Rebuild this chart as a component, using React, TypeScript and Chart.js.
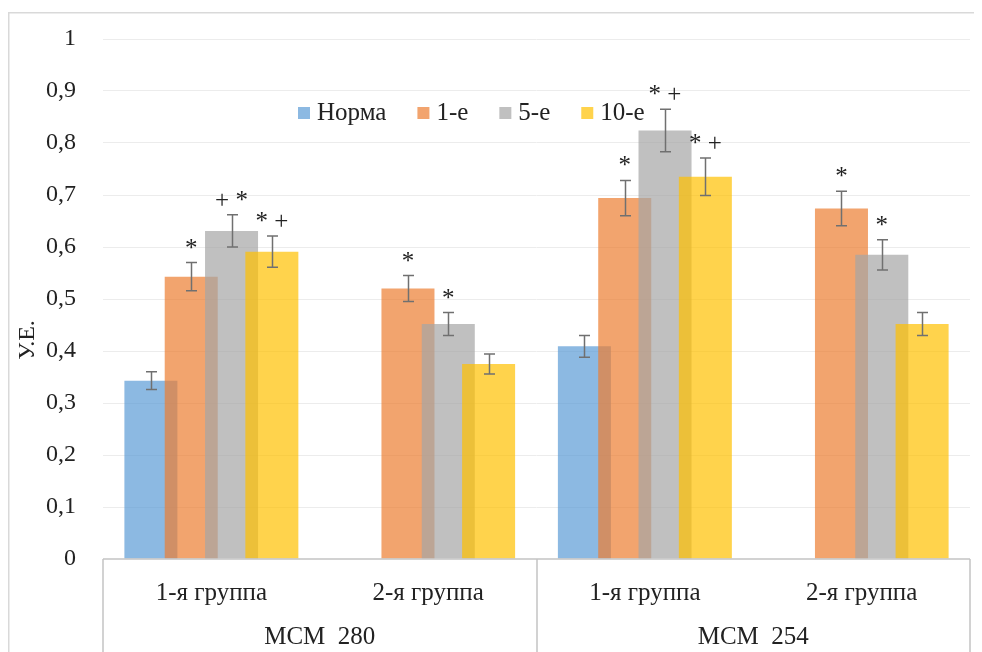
import React, { useEffect, useRef } from 'react';
import { Chart, registerables } from 'chart.js';

Chart.register(...registerables);

// ---- data ----
const categories = ['1-я группа', '2-я группа', '1-я группа', '2-я группа'];
const groupLabels = ['MCM  280', 'MCM  254'];
const groupSpan = 2;
const seriesNames = ['Норма', '1-е', '5-е', '10-е'];
const normaValues = [0.343, null, 0.409, null];
const normaErrors = [0.017, null, 0.021, null];
const day1Values = [0.543, 0.52, 0.694, 0.674];
const day1Errors = [0.027, 0.025, 0.034, 0.033];
const day5Values = [0.631, 0.452, 0.824, 0.585];
const day5Errors = [0.031, 0.022, 0.041, 0.029];
const day10Values = [0.591, 0.375, 0.735, 0.452];
const day10Errors = [0.03, 0.019, 0.036, 0.022];
const normaMarks = ['', '', '', ''];
const day1Marks = ['*', '*', '*', '*'];
const day5Marks = ['+ *', '*', '* +', '*'];
const day10Marks = ['* +', '', '* +', ''];
const yTickLabels = ['0', '0,1', '0,2', '0,3', '0,4', '0,5', '0,6', '0,7', '0,8', '0,9', '1'];
const yTitle = 'У.Е.';

const seriesColors = [
  'rgba(91,155,213,0.7)',
  'rgba(237,125,49,0.7)',
  'rgba(165,165,165,0.7)',
  'rgba(255,192,0,0.7)',
];

const FONT = '"Liberation Serif", "Times New Roman", serif';
const TEXT = '#222222';

const allValues = [normaValues, day1Values, day5Values, day10Values];
const allErrors = [normaErrors, day1Errors, day5Errors, day10Errors];
const allMarks = [normaMarks, day1Marks, day5Marks, day10Marks];

const customPlugin = {
  id: 'custom',
  beforeDraw(chart: any) {
    const ctx = chart.ctx;
    ctx.save();
    ctx.strokeStyle = '#d9d9d9';
    ctx.lineWidth = 1.5;
    ctx.beginPath();
    ctx.moveTo(0.75, chart.height + 5);
    ctx.lineTo(0.75, 4.75);
    ctx.lineTo(chart.width + 5, 4.75);
    ctx.stroke();
    ctx.restore();
  },
  beforeDatasetsDraw(chart: any) {
    const metas = chart.getSortedVisibleDatasetMetas();
    metas.forEach((m: any) => m.controller.draw());
    return false;
  },
  afterDraw(chart: any) {
    const ctx = chart.ctx;
    const area = chart.chartArea;
    const x = chart.scales.x;
    const y = chart.scales.y;
    ctx.save();

    // x axis line + separators
    ctx.strokeStyle = '#c4c4c4';
    ctx.lineWidth = 1.5;
    ctx.beginPath();
    ctx.moveTo(area.left, area.bottom);
    ctx.lineTo(area.right, area.bottom);
    for (let g = 0; g <= groupLabels.length; g++) {
      const px = Math.round(x.getPixelForValue(g * groupSpan - 0.5));
      ctx.moveTo(px, area.bottom);
      ctx.lineTo(px, chart.height + 5);
    }
    ctx.stroke();

    // group labels
    ctx.fillStyle = TEXT;
    ctx.font = `25px ${FONT}`;
    ctx.textAlign = 'center';
    ctx.textBaseline = 'middle';
    groupLabels.forEach((lab, g) => {
      const a = x.getPixelForValue(g * groupSpan - 0.5);
      const b = x.getPixelForValue((g + 1) * groupSpan - 0.5);
      ctx.fillText(lab, (a + b) / 2, area.bottom + 78);
    });

    // error bars
    ctx.strokeStyle = '#707070';
    ctx.lineWidth = 1.5;
    allValues.forEach((vals, i) => {
      const meta = chart.getDatasetMeta(i);
      vals.forEach((v, j) => {
        const e = allErrors[i][j];
        if (v === null || e === null) return;
        const bx = Math.round(meta.data[j].x) + 0.5;
        const yt = y.getPixelForValue((v as number) + (e as number));
        const yb = y.getPixelForValue((v as number) - (e as number));
        ctx.beginPath();
        ctx.moveTo(bx, yt);
        ctx.lineTo(bx, yb);
        ctx.moveTo(bx - 5.5, yt);
        ctx.lineTo(bx + 5.5, yt);
        ctx.moveTo(bx - 5.5, yb);
        ctx.lineTo(bx + 5.5, yb);
        ctx.stroke();
      });
    });

    // significance marks
    ctx.fillStyle = TEXT;
    ctx.font = `25px ${FONT}`;
    ctx.textAlign = 'center';
    ctx.textBaseline = 'alphabetic';
    allMarks.forEach((marks, i) => {
      const meta = chart.getDatasetMeta(i);
      marks.forEach((m, j) => {
        const v = allValues[i][j];
        const e = allErrors[i][j];
        if (!m || v === null || e === null) return;
        const bx = meta.data[j].x;
        const yt = y.getPixelForValue((v as number) + (e as number));
        ctx.fillText(m, bx, yt - 7);
      });
    });

    // y title
    ctx.save();
    ctx.translate(20, (area.top + area.bottom) / 2 + 41);
    ctx.rotate(-Math.PI / 2);
    ctx.textAlign = 'center';
    ctx.textBaseline = 'middle';
    ctx.font = `24px ${FONT}`;
    ctx.fillStyle = TEXT;
    ctx.fillText(yTitle, 0, 0);
    ctx.restore();

    // legend
    let lx = area.left + 195;
    const ly = area.top + 74;
    ctx.font = `25px ${FONT}`;
    ctx.textAlign = 'left';
    ctx.textBaseline = 'middle';
    seriesNames.forEach((name, i) => {
      ctx.fillStyle = seriesColors[i];
      ctx.fillRect(lx, ly - 6, 12, 12);
      lx += 19;
      ctx.fillStyle = TEXT;
      ctx.fillText(name, lx, ly);
      lx += ctx.measureText(name).width + 31;
    });

    ctx.restore();
  },
};

export default function App() {
  const ref = useRef<HTMLCanvasElement | null>(null);
  useEffect(() => {
    if (!ref.current) return;
    const chart = new Chart(ref.current, {
      type: 'bar',
      data: {
        labels: categories,
        datasets: seriesNames.map((name, i) => ({
          label: name,
          data: allValues[i] as any,
          backgroundColor: seriesColors[i],
          borderWidth: 0,
          categoryPercentage: 0.744,
          barPercentage: 1.315,
        })),
      },
      options: {
        animation: false,
        responsive: false,
        devicePixelRatio: 1,
        layout: { padding: { top: 31, right: 12, left: 0, bottom: 0 } },
        plugins: { legend: { display: false }, tooltip: { enabled: false } },
        scales: {
          x: {
            grid: { display: false },
            border: { display: false },
            ticks: {
              font: { family: FONT, size: 25 },
              color: TEXT,
              padding: 11,
              maxRotation: 0,
              autoSkip: false,
            },
            afterFit: (s: any) => {
              s.height = 93;
            },
          },
          y: {
            min: 0,
            max: 1,
            ticks: {
              stepSize: 0.1,
              font: { family: FONT, size: 24 },
              color: TEXT,
              padding: 0,
              callback: (_v: any, idx: number) => yTickLabels[idx],
            },
            grid: {
              drawTicks: true,
              tickLength: 27,
              tickColor: 'rgba(0,0,0,0)',
              color: (c: any) => (c.index === 0 ? 'rgba(0,0,0,0)' : '#ececec'),
              lineWidth: 1,
            },
            border: { display: false },
            afterFit: (s: any) => {
              s.width = 95;
            },
          },
        },
      },
      plugins: [customPlugin],
    });
    return () => chart.destroy();
  }, []);
  return (
    <div style={{ width: 974, height: 644 }}>
      <canvas ref={ref} width={974} height={644} style={{ display: 'block' }} />
    </div>
  );
}
